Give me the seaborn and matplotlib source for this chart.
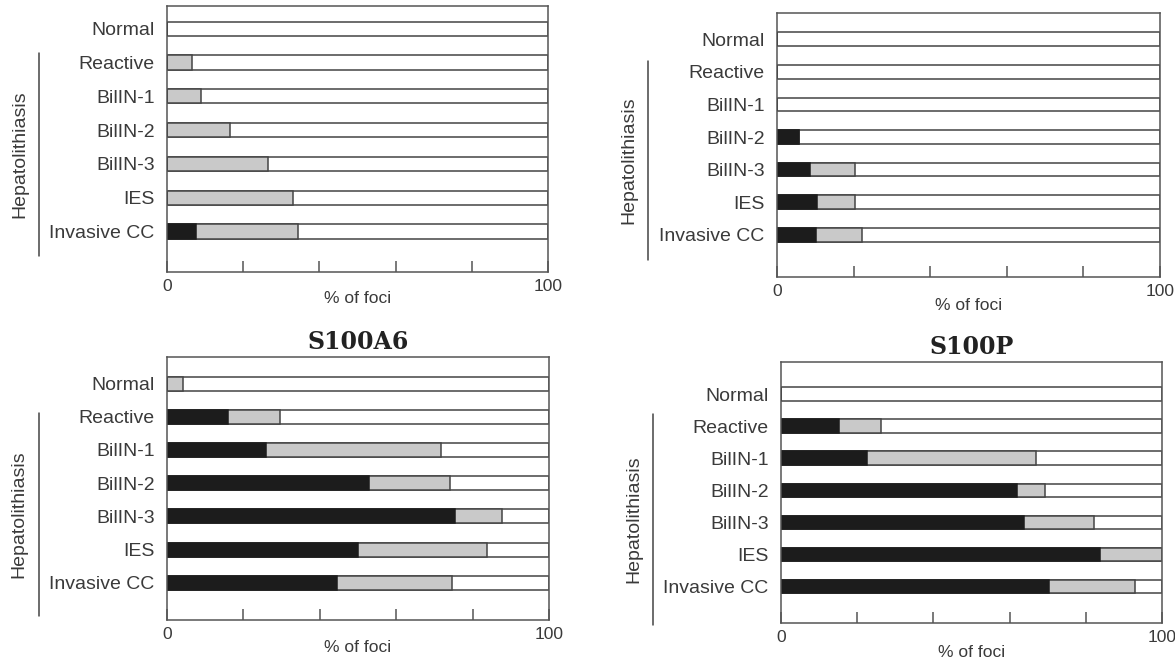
import matplotlib
matplotlib.use('Agg')
import matplotlib.pyplot as plt
import seaborn as sns

categories = ['Normal', 'Reactive', 'BilIN-1', 'BilIN-2', 'BilIN-3', 'IES', 'Invasive CC']
total = [100, 100, 100, 100, 100, 100, 100]

# top left panel (no title)
strong_1 = [0, 0, 0, 0, 0, 0, 7.6]
weak_1 = [0, 6.6, 8.9, 16.5, 26.6, 33.0, 26.9]

# top right panel (no title)
strong_2 = [0, 0, 0, 5.8, 8.5, 10.5, 10.3]
weak_2 = [0, 0, 0, 0, 11.8, 9.8, 11.9]

# S100A6
strong_3 = [0, 15.9, 25.9, 52.8, 75.4, 50.0, 44.4]
weak_3 = [4.3, 13.6, 45.7, 21.2, 12.4, 33.7, 30.1]

# S100P
strong_4 = [0, 15.2, 22.6, 61.9, 63.9, 83.6, 70.4]
weak_4 = [0, 11.1, 44.3, 7.5, 18.3, 16.4, 22.4]

titles = ['', '', 'S100A6', 'S100P']
group_label = 'Hepatolithiasis'

sns.set_style('white')
plt.rcParams['font.family'] = ['Liberation Sans', 'DejaVu Sans']

W, H = 1175, 662
fig = plt.figure(figsize=(W / 100, H / 100), dpi=100)

# axes boxes in pixels: left, right, top, bottom
boxes = [(167, 548, 6, 272), (777, 1160, 13, 277), (167, 549, 357, 620), (781, 1162, 362, 623)]
ylims = [(7.2, -0.67), (7.29, -0.8), (7.12, -0.8), (7.14, -1.0)]
lines_y = [(0.72, 6.73), (0.67, 6.76), (0.89, 7.0), (0.62, 7.2)]
label_y = [0.071, 0.08, 0.076, 0.084]

panels = [(strong_1, weak_1), (strong_2, weak_2), (strong_3, weak_3), (strong_4, weak_4)]

text_col = '#3a3a3a'
edge_col = '#444444'

for i, (strong, weak) in enumerate(panels):
    l, r, t, b = boxes[i]
    ax = fig.add_axes([l / W, (H - b) / H, (r - l) / W, (b - t) / H])
    cum = [s + w for s, w in zip(strong, weak)]

    sns.barplot(x=total, y=categories, orient='h', color='white', edgecolor=edge_col,
                linewidth=1.1, width=0.42, saturation=1, errorbar=None, ax=ax)
    sns.barplot(x=cum, y=categories, orient='h', color='#c9c9c9', edgecolor=edge_col,
                linewidth=1.1, width=0.42, saturation=1, errorbar=None, ax=ax)
    sns.barplot(x=strong, y=categories, orient='h', color='#1c1c1c', edgecolor='#1c1c1c',
                linewidth=1.1, width=0.42, saturation=1, errorbar=None, ax=ax)

    ax.set_xlim(0, 100)
    ax.set_ylim(*ylims[i])
    ax.set_xticks([0, 20, 40, 60, 80, 100])
    ax.set_xticklabels(['0', '', '', '', '', '100'])
    ax.tick_params(axis='x', bottom=True, direction='in', length=8, width=1.1, color='#555555',
                   labelsize=12.5, labelcolor=text_col, pad=5)
    ax.tick_params(axis='y', left=False, length=0, pad=9, labelsize=14, labelcolor=text_col)
    ax.set_ylabel('')
    ax.set_xlabel('% of foci', fontsize=12.5, color=text_col, va='top')
    ax.xaxis.set_label_coords(0.5, -label_y[i])
    for sp in ax.spines.values():
        sp.set_visible(True)
        sp.set_color('#555555')
        sp.set_linewidth(1.1)

    if titles[i]:
        ax.set_title(titles[i], family='DejaVu Serif', fontweight='bold', fontsize=17,
                     color='#222222', pad=6)

    trans = ax.get_yaxis_transform()
    y0, y1 = lines_y[i]
    ax.plot([-0.336, -0.336], [y0, y1], transform=trans, color='#444444', lw=1.1,
            clip_on=False)
    ax.text(-0.387, (y0 + y1) / 2, group_label, transform=trans, rotation=90,
            ha='center', va='center', fontsize=14, color=text_col)

fig.savefig('out.png', dpi=100)
